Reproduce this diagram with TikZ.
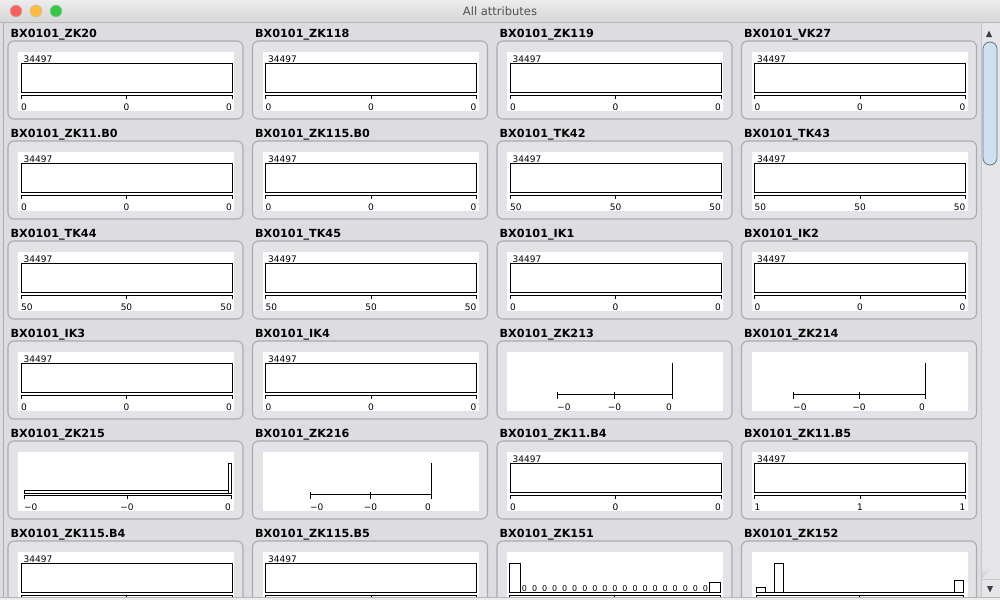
\documentclass[tikz,border=0pt]{standalone}
\usepackage{fontspec}
\setmainfont{DejaVu Sans}

\definecolor{winbg}{RGB}{221,221,225}
\definecolor{panelbg}{RGB}{227,227,231}
\definecolor{panelline}{RGB}{170,170,176}
\definecolor{titletop}{RGB}{236,236,236}
\definecolor{titlebot}{RGB}{214,214,214}
\definecolor{titleline}{RGB}{182,182,182}
\definecolor{titlegrey}{RGB}{80,80,80}
\definecolor{trackbg}{RGB}{230,230,232}
\definecolor{thumbfill}{RGB}{208,224,238}
\definecolor{thumbline}{RGB}{96,116,142}
\definecolor{closered}{RGB}{252,96,92}
\definecolor{minyellow}{RGB}{253,188,64}
\definecolor{zoomgreen}{RGB}{52,200,74}

\begin{document}
\begin{tikzpicture}[x=1pt,y=-1pt,
  panelframe/.style={fill=panelbg,draw=panelline,line width=1.1pt,rounded corners=6pt},
  attrlabel/.style={font=\fontsize{11.2}{13}\selectfont\bfseries,inner sep=0pt,anchor=base west},
  ticklabel/.style={font=\fontsize{9}{10}\selectfont,inner sep=0pt},
  zerolabel/.style={font=\fontsize{8}{9}\selectfont,inner sep=0pt,anchor=base},
  chartline/.style={line width=1pt,black},
  light/.style={circle,minimum size=12pt,inner sep=0pt,draw=black!25,line width=0.5pt},
]
  \useasboundingbox (0,0) rectangle (1000,600);
  % window
  \fill[winbg] (0,0) rectangle (1000,600);
  \shade[top color=titletop,bottom color=titlebot] (0,0) rectangle (1000,22);
  \draw[titleline] (0,22.5) -- (1000,22.5);
  \node[light,fill=closered] (close) at (16,11) {};
  \node[light,fill=minyellow] (minimize) at (36,11) {};
  \node[light,fill=zoomgreen] (zoom) at (56,11) {};
  \node[font=\fontsize{11.5}{13}\selectfont,text=titlegrey] (title) at (500,11) {All attributes};
  \draw[panelline] (3,23) -- (3,597);

  \begin{scope}
  \clip (3,23) rectangle (980,596.5);
  % panels with their names
  \foreach \name [count=\i from 0] in {ZK20,ZK118,ZK119,VK27,ZK11.B0,ZK115.B0,TK42,TK43,TK44,TK45,IK1,IK2,IK3,IK4,ZK213,ZK214,ZK215,ZK216,ZK11.B4,ZK11.B5,ZK115.B4,ZK115.B5,ZK151,ZK152} {
    \pgfmathtruncatemacro\row{\i/4}
    \pgfmathtruncatemacro\col{\i-4*\row}
    \begin{scope}[shift={(8+244.5*\col,41+100*\row)}]
      \draw[panelframe] (0,0) rectangle (235,78);
      \fill[white] (10,11) rectangle (226,70);
      \node[attrlabel] (label-\i) at (2.5,-4) {BX0101\_\name};
    \end{scope}
  }
  % box charts
  \foreach \i/\val in {0/0,1/0,2/0,3/0,4/0,5/0,6/50,7/50,8/50,9/50,10/0,11/0,12/0,13/0,18/0,19/1,20/0,21/0} {
    \pgfmathtruncatemacro\row{\i/4}
    \pgfmathtruncatemacro\col{\i-4*\row}
    \begin{scope}[shift={(8+244.5*\col,41+100*\row)}]
      \node[ticklabel,anchor=base west] (count-\i) at (15.5,21) {34497};
      \draw[chartline] (13,22) rectangle (224,51);
      \draw[chartline] (13,58) -- (13,54) -- (224,54) -- (224,58);
      \draw[chartline] (118.5,54) -- (118.5,58);
      \ifnum\row<5
      \node[ticklabel,anchor=base west] (lo-\i) at (13,69) {\val};
      \node[ticklabel,anchor=base] (mid-\i) at (118.5,69) {\val};
      \node[ticklabel,anchor=base east] (hi-\i) at (224,69) {\val};
      \fi
    \end{scope}
  }
  % single spike charts
  \foreach \i/\lo/\hi in {14/60/175,15/51.5/183.5,17/57.5/178.5} {
    \pgfmathtruncatemacro\row{\i/4}
    \pgfmathtruncatemacro\col{\i-4*\row}
    \pgfmathsetmacro\mid{(\lo+\hi)/2}
    \begin{scope}[shift={(8+244.5*\col,41+100*\row)}]
      \draw[chartline] (\lo,58) -- (\lo,53) -- (\hi,53) -- (\hi,58);
      \draw[chartline] (\mid,51) -- (\mid,58);
      \draw[chartline] (\lo,51) -- (\lo,53);
      \draw[chartline] (\hi,22) -- (\hi,53);
      \node[ticklabel,anchor=base west] (lo-\i) at (\lo,69) {−0};
      \node[ticklabel,anchor=base] (mid-\i) at (\mid,69) {−0};
      \node[ticklabel,anchor=base east] (hi-\i) at (\hi,69) {0};
    \end{scope}
  }
  % ZK215
  \begin{scope}[shift={(8,441)}]
    \draw[line width=0.7pt] (16,49.8) rectangle (220.8,52.8);
    \draw[line width=0.7pt] (220.8,22.5) rectangle (223,52.8);
    \draw[chartline] (16,58) -- (16,54.8) -- (223,54.8) -- (223,58);
    \draw[chartline] (119,54.8) -- (119,58);
    \node[ticklabel,anchor=base west] (lo-16) at (16,69) {−0};
    \node[ticklabel,anchor=base] (mid-16) at (119,69) {−0};
    \node[ticklabel,anchor=base east] (hi-16) at (223,69) {0};
  \end{scope}
  % ZK151
  \begin{scope}[shift={(497,541)}]
    \draw[chartline] (12,51) rectangle (23,22);
    \draw[chartline] (212,51) rectangle (223,41);
    \draw[chartline] (12,51) -- (223,51);
    \foreach \k in {0,...,18}
      \node[zerolabel] (zero-\k) at (27.5+10.05*\k,50) {0};
    \draw[chartline] (12,58) -- (12,54.5) -- (223,54.5) -- (223,58);
    \draw[chartline] (117.5,54.5) -- (117.5,58);
  \end{scope}
  % ZK152
  \begin{scope}[shift={(741.5,541)}]
    \draw[chartline] (14.5,51) rectangle (23.5,46);
    \draw[chartline] (32.5,51) rectangle (41.5,22);
    \draw[chartline] (212.5,51) rectangle (221.5,39);
    \draw[chartline] (14.5,51) -- (221.5,51);
    \draw[chartline] (14.5,58) -- (14.5,54.5) -- (221.5,54.5) -- (221.5,58);
    \draw[chartline] (117.5,54.5) -- (117.5,58);
  \end{scope}
  \end{scope}

  % scrollbar
  \fill[trackbg] (981,23) rectangle (1000,597);
  \draw[panelline!70] (981,23) -- (981,597);
  \shade[top color=trackbg,bottom color=black!22] (982,568) rectangle (1000,579);
  \fill[trackbg] (982,579) .. controls (986,571) and (994,570) .. (1000,568) -- (1000,579) -- cycle;
  \draw[thumbline,fill=thumbfill,line width=0.8pt,rounded corners=7pt] (983,42) rectangle (997,165);
  \fill[black!75] (986,37) -- (992,37) -- (989,30.5) -- cycle;
  \fill[black!75] (987,586) -- (993,586) -- (990,592.5) -- cycle;
  % bottom edge
  \draw[titleline] (0,597) -- (1000,597);
  \fill[titletop] (0,597.5) rectangle (1000,600);
\end{tikzpicture}
\end{document}
